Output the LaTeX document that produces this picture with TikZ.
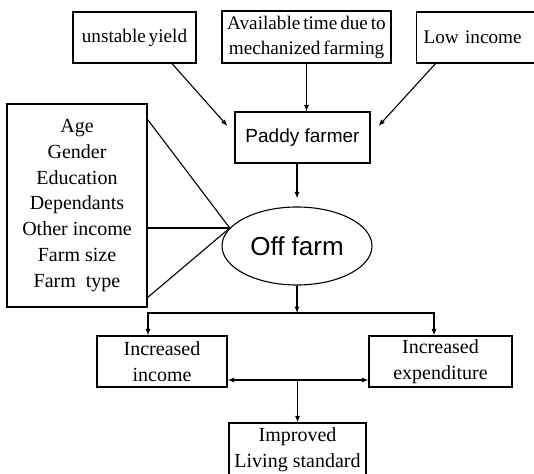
\documentclass[tikz,border=0pt]{standalone}
\usepackage{fontspec}
\setmainfont{Liberation Serif}
\newfontfamily\arialf{Liberation Sans}
\newfontfamily\topserif[WordSpace=0.6]{Liberation Serif}
\usetikzlibrary{shapes.geometric,arrows.meta,calc}
\begin{document}
\begin{tikzpicture}[x=1pt,y=-1pt,line width=1.1pt,
  box/.style={draw,rectangle,inner sep=0pt,align=center},
  topfont/.style={font=\topserif\fontsize{19.2}{25}\selectfont},
  lowfont/.style={font=\fontsize{20}{26}\selectfont},
  arr/.style={-{Latex[length=6.5pt,width=5pt]}},
  arrtwo/.style={{Latex[length=6.5pt,width=5pt]}-{Latex[length=6.5pt,width=5pt]}}]
\fill[white] (0,0) rectangle (534,473);
\clip (0,0) rectangle (534,473);
\useasboundingbox (0,0) rectangle (534,473);

\node[box,topfont,minimum width=123pt,minimum height=51pt] (unstable) at (134.5,37.5) {unstable yield};
\node[box,topfont,minimum width=169pt,minimum height=52pt] (avail) at (306.5,37) {Available time due to\\mechanized farming};
\node[box,topfont,text width=110pt,align=left,inner xsep=7pt,minimum height=51pt,anchor=west] (low) at (416,37.5) {Low income};
\node[box,font=\arialf\fontsize{19}{23}\selectfont,minimum width=135pt,minimum height=51pt] (paddy) at (302.5,137.5) {Paddy farmer};
\node[box,font=\fontsize{20}{25.8}\selectfont,minimum width=140pt,minimum height=203pt] (factors) at (77,205.5) {Age\\Gender\\Education\\Dependants\\Other income\\Farm size\\Farm\ \ type};
\node[draw,ellipse,inner sep=0pt,minimum width=150pt,minimum height=78pt,font=\arialf\fontsize{26}{30}\selectfont] (off) at (297,246) {Off farm};
\node[box,lowfont,minimum width=130pt,minimum height=51pt] (incinc) at (162,361.5) {Increased\\income};
\node[box,lowfont,minimum width=143pt,minimum height=51pt] (incexp) at (440.5,361.5) {Increased\\expenditure};
\node[box,lowfont,minimum width=137pt,minimum height=54pt] (improved) at (297.5,450) {Improved\\Living standard};

% top arrows
\draw[arr] ([xshift=37.5pt]unstable.south) -- ([xshift=-7pt,yshift=11.5pt]paddy.west);
\draw[arr] (avail.south) -- (avail.south |- paddy.north);
\draw[arr] ([xshift=-43pt]low.south) -- ([xshift=8pt,yshift=11.5pt]paddy.east);
\draw[arr] (paddy.south -| off.north) -- ([yshift=8pt]off.north);

% factor lines
\draw ([yshift=-16pt]factors.north east) -- (off.165);
\draw (factors.east |- off.165) -- (off.165);
\draw ([yshift=10pt]factors.south east) -- (off.165);

% branch
\coordinate (br) at (off.south |- 0,313);
\draw[arr] (off.south) -- (br);
\draw[arr] (br) -| ([xshift=-14pt]incinc.north);
\draw[arr] (br) -| ([xshift=-6.5pt]incexp.north);

% bottom
\coordinate (dl) at ([yshift=-18.5pt]incinc.east);
\draw[arrtwo] (dl) -- (dl -| incexp.west);
\draw[arr] (improved.north |- dl) -- (improved.north);
\end{tikzpicture}
\end{document}
